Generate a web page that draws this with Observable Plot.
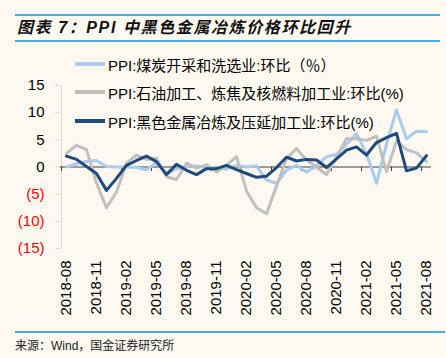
<!DOCTYPE html>
<html><head><meta charset="utf-8">
<script src="https://cdn.jsdelivr.net/npm/d3@7"></script>
<script src="https://cdn.jsdelivr.net/npm/@observablehq/plot@0.6"></script>
<style>
html,body{margin:0;padding:0;background:#fdf9f0;}
#wrap{position:relative;width:446px;height:358px;background:#fdf9f0;overflow:hidden;font-family:"Liberation Sans","Noto Sans CJK SC",sans-serif;color:#000;}
#chart{position:absolute;left:0;top:0;}
.hline{position:absolute;height:2px;background:#45ade6;}
#title{position:absolute;left:17px;top:15px;height:26px;line-height:26px;font-size:16px;font-weight:bold;font-style:italic;letter-spacing:1.6px;white-space:nowrap;color:#111;}
.leg{position:absolute;left:75px;height:28px;display:flex;align-items:center;white-space:nowrap;font-size:15px;}
.leg .sw{width:30px;height:3.5px;margin-right:3px;}
#source{position:absolute;left:15px;top:336px;font-size:12px;white-space:nowrap;color:#222;}
</style></head>
<body>
<div id="wrap">
  <div class="hline" style="left:15px;width:425px;top:14px"></div>
  <div id="title"></div>
  <div class="hline" style="left:15px;width:425px;top:40px"></div>
  <div id="chart"></div>
  <div id="legend"></div>
  <div class="hline" style="left:15px;width:430px;top:331px;height:1.5px"></div>
  <div id="source"></div>
</div>
<script>
const titleText = "图表 7：PPI 中黑色金属冶炼价格环比回升";
const sourceText = "来源：Wind，国金证券研究所";
const months = ["2018-08","2018-09","2018-10","2018-11","2018-12","2019-01","2019-02","2019-03","2019-04","2019-05","2019-06","2019-07","2019-08","2019-09","2019-10","2019-11","2019-12","2020-01","2020-02","2020-03","2020-04","2020-05","2020-06","2020-07","2020-08","2020-09","2020-10","2020-11","2020-12","2021-01","2021-02","2021-03","2021-04","2021-05","2021-06","2021-07","2021-08"];
const xTickLabels = ["2018-08","2018-11","2019-02","2019-05","2019-08","2019-11","2020-02","2020-05","2020-08","2020-11","2021-02","2021-05","2021-08"];
const yTicksPos = [0,5,10,15];
const yTicksNeg = [-5,-10,-15];
const seriesNames = ["PPI:煤炭开采和洗选业:环比（％）","PPI:石油加工、炼焦及核燃料加工业:环比(%)","PPI:黑色金属冶炼及压延加工业:环比(%)"];
const seriesColors = ["#a9cbee","#c0c0c0","#1f4a7e"];
const coal  = [0.0,0.6,1.0,1.2,0.1,0.0,0.0,-0.1,-0.5,0.8,-1.2,-0.4,0.1,0.2,-0.1,-0.1,-0.4,0.3,0.0,0.2,-2.4,-3.0,-0.6,0.3,-0.9,0.2,1.9,2.3,4.2,6.1,2.5,-3.0,4.2,10.5,5.2,6.6,6.5];
const petro = [2.5,4.0,3.2,-3.0,-7.5,-4.6,0.7,2.2,1.4,1.6,-1.8,-2.3,0.7,-0.2,0.4,-0.9,0.3,1.9,-4.4,-7.5,-8.6,-3.5,1.5,3.4,1.3,0.0,-1.4,1.8,5.2,5.2,4.9,5.7,-0.9,4.8,3.2,2.6,1.0];
const steel = [2.0,1.4,0.1,-1.2,-4.3,-2.1,0.3,1.2,2.0,1.0,-1.4,0.5,-0.6,-1.4,-0.3,-0.3,0.3,-0.5,-1.2,-1.9,-1.7,-0.1,1.8,1.1,1.4,1.3,-0.1,1.5,3.1,3.7,2.2,4.5,5.4,6.2,-0.7,-0.2,2.1];

document.getElementById("title").textContent = titleText;
document.getElementById("source").textContent = sourceText;

const allSeries = [coal, petro, steel];
const rows = allSeries.flatMap((vals, s) => vals.map((v, i) => ({month: months[i], value: v, series: seriesNames[s]})));

const font = '"Liberation Sans","Noto Sans CJK SC",sans-serif';
const chart = Plot.plot({
  width: 446, height: 358,
  marginLeft: 60, marginRight: 15, marginTop: 85, marginBottom: 110,
  style: {background: "transparent", fontFamily: font, fontSize: "15px", color: "#000", overflow: "visible"},
  x: {type: "point", domain: months, padding: 0.5, axis: null},
  y: {domain: [-15, 15], axis: null},
  color: {domain: seriesNames, range: seriesColors},
  marks: [
    Plot.ruleX([months[0]], {x: d => d, y1: -15, y2: 15, dx: -5, stroke: "#d9d9d9"}),
    Plot.axisY({ticks: yTicksPos, tickSize: 5, tickPadding: 11, stroke: "#d9d9d9", fill: "#000", fontSize: 15, label: null}),
    Plot.axisY({ticks: yTicksNeg, tickSize: 5, tickPadding: 11, stroke: "#d9d9d9", fill: "#ff0000", fontSize: 15, tickFormat: d => `(${-d})`, label: null}),
    Plot.ruleY([0], {stroke: "#404040", strokeWidth: 1}),
    Plot.ruleX(xTickLabels, {x: d => d, y1: 0, y2: -0.85, dx: -5, stroke: "#404040"}),
    Plot.axisX({ticks: xTickLabels, tickSize: 0, tickPadding: 12, tickRotate: -90, fontSize: 15, fill: "#000", label: null}),
    Plot.line(rows, {x: "month", y: "value", z: "series", stroke: "series", strokeWidth: 3, strokeLinejoin: "round", strokeLinecap: "round"})
  ]
});
document.getElementById("chart").appendChild(chart);

const legend = document.getElementById("legend");
const legTops = [50, 78, 107];
seriesNames.forEach((name, i) => {
  const row = document.createElement("div");
  row.className = "leg";
  row.style.top = legTops[i] + "px";
  const sw = document.createElement("div");
  sw.className = "sw";
  sw.style.background = seriesColors[i];
  const tx = document.createElement("span");
  tx.textContent = name;
  row.appendChild(sw); row.appendChild(tx);
  legend.appendChild(row);
});
</script>
</body></html>
